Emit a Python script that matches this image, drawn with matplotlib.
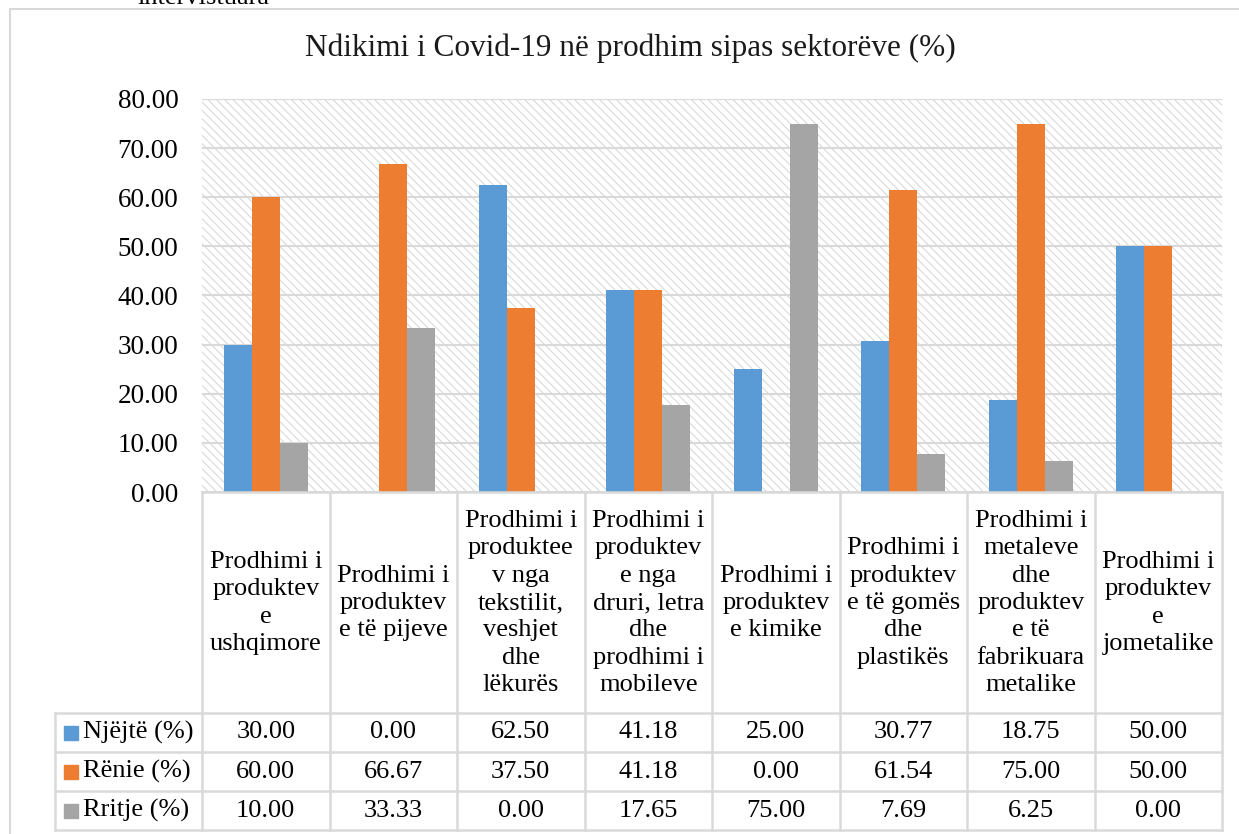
import numpy as np
import matplotlib.pyplot as plt
import matplotlib.transforms as mtransforms
from matplotlib.patches import Rectangle

# Dados
categorias = [
    "Prodhimi i\nproduktev\ne\nushqimore",
    "Prodhimi i\nproduktev\ne të pijeve",
    "Prodhimi i\nproduktee\nv nga\ntekstilit,\nveshjet\ndhe\nlëkurës",
    "Prodhimi i\nproduktev\ne nga\ndruri, letra\ndhe\nprodhimi i\nmobileve",
    "Prodhimi i\nproduktev\ne kimike",
    "Prodhimi i\nproduktev\ne të gomës\ndhe\nplastikës",
    "Prodhimi i\nmetaleve\ndhe\nproduktev\ne të\nfabrikuara\nmetalike",
    "Prodhimi i\nproduktev\ne\njometalike",
]
serie_nomes = ["Njëjtë (%)", "Rënie (%)", "Rritje (%)"]
njejte = [30.00, 0.00, 62.50, 41.18, 25.00, 30.77, 18.75, 50.00]
renie = [60.00, 66.67, 37.50, 41.18, 0.00, 61.54, 75.00, 50.00]
rritje = [10.00, 33.33, 0.00, 17.65, 75.00, 7.69, 6.25, 0.00]
cores = ["#5B9BD5", "#ED7D31", "#A5A5A5"]
titulo = "Ndikimi i Covid-19 në prodhim sipas sektorëve (%)"

plt.rcParams["font.family"] = ["Liberation Serif", "DejaVu Serif"]
plt.rcParams["hatch.linewidth"] = 0.7

W, H = 1239, 834
fig = plt.figure(figsize=(W / 100, H / 100), dpi=100)

# Moldura do gráfico
fig.patches.append(Rectangle((10 / W, -0.1), 1.2, 1 - 9 / H + 0.1, transform=fig.transFigure,
                             fill=False, edgecolor="#d9d9d9", linewidth=1.5))
# texto cortado do documento (acima do gráfico)
fig.text(137 / W, 1 - 4 / H, "intervistuara", fontsize=19, va="baseline", color="black")

ax = fig.add_axes([202 / W, (H - 492) / H, 1020 / W, 393 / H])
ax.set_xlim(-0.5, 7.5)
ax.set_ylim(0, 80)
ax.set_facecolor("none")

# fundo hachurado
ax.add_patch(Rectangle((0, 0), 1, 1, transform=ax.transAxes, facecolor="white",
                       edgecolor="#d4d4d4", hatch="\\\\\\\\", linewidth=0, zorder=0))

for y in range(0, 90, 10):
    ax.axhline(y, color="#d9d9d9", linewidth=1.5, zorder=1)

x = np.arange(len(categorias))
largura = 0.22
for i, (vals, cor) in enumerate(zip([njejte, renie, rritje], cores)):
    ax.bar(x + (i - 1) * largura, vals, largura, color=cor, zorder=2)

for s in ax.spines.values():
    s.set_visible(False)
ax.set_xticks([])
ax.set_yticks(range(0, 90, 10))
ax.set_yticklabels([f"{v:.2f}" for v in range(0, 90, 10)], fontsize=19.5)
ax.tick_params(axis="y", length=0, pad=17)

fig.text(630 / W, 1 - 48 / H, titulo, ha="center", va="center", fontsize=22.5, color="#1a1a1a")

# Tabela de dados
trans = mtransforms.blended_transform_factory(ax.transData, ax.transAxes)


def yax(py):
    return (492 - py) / 393


x_esq = -0.5 - (202 - 55) / 127.5
y_cab = yax(713)
y_linhas = [yax(713), yax(752), yax(791), yax(830)]
cor_linha = "#d9d9d9"

for xb in np.arange(-0.5, 8, 1):
    ax.plot([xb, xb], [0, y_linhas[-1]], color=cor_linha, lw=1.8, transform=trans, clip_on=False)
ax.plot([x_esq, x_esq], [y_cab, y_linhas[-1]], color=cor_linha, lw=1.8, transform=trans, clip_on=False)
ax.plot([-0.5, 7.5], [0, 0], color=cor_linha, lw=1.8, transform=trans, clip_on=False)
for yl in y_linhas:
    ax.plot([x_esq, 7.5], [yl, yl], color=cor_linha, lw=1.8, transform=trans, clip_on=False)

for i, cat in enumerate(categorias):
    ax.text(i, yax(603), cat, ha="center", va="center", fontsize=19,
            linespacing=1.32, transform=trans, color="black")

for r, (nome, vals, cor) in enumerate(zip(serie_nomes, [njejte, renie, rritje], cores)):
    yc = (y_linhas[r] + y_linhas[r + 1]) / 2
    ax.plot([-0.5 - (202 - 71) / 127.5], [yc], marker="s", markersize=10.5, color=cor,
            transform=trans, clip_on=False, linestyle="none")
    ax.text(-0.5 - (202 - 83) / 127.5, yc, nome, ha="left", va="center", fontsize=19,
            transform=trans, color="black")
    for i, v in enumerate(vals):
        ax.text(i, yc, f"{v:.2f}", ha="center", va="center", fontsize=19,
                transform=trans, color="black")

fig.savefig("out.png", dpi=100)
